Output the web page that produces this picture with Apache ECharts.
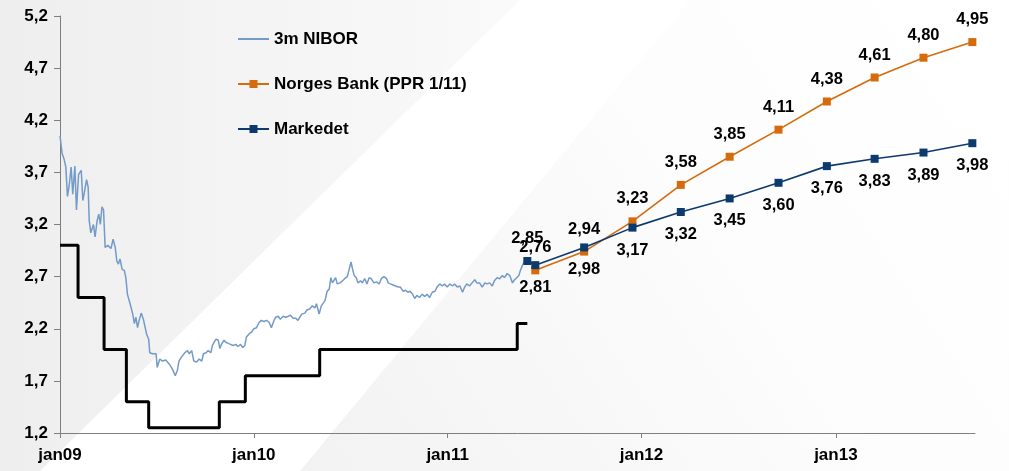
<!DOCTYPE html>
<html>
<head>
<meta charset="utf-8">
<script src="https://cdn.jsdelivr.net/npm/echarts@6/dist/echarts.min.js"></script>
<style>html,body{margin:0;padding:0;background:#fff;}#c{width:1009px;height:471px;}</style>
</head>
<body>
<div id="c"></div>
<script>
// ---- data ----
const seriesNames = ['3m NIBOR', 'Norges Bank (PPR 1/11)', 'Markedet'];

// 3m NIBOR: days since 1 Jan 2009 and values
const niborDays = [0,4,6,8,11,14,17,21,24,28,31,35,40,43,46,50,53,55,58,63,66,70,73,76,79,82,85,90,96,100,104,107,110,113,117,121,124,127,132,137,140,143,146,149,153,157,160,163,167,169,174,181,183,188,193,199,206,212,217,221,
224,229,235,240,243,248,252,257,262,267,270,275,279,284,287,290,294,298,301,304,309,312,317,321,326,331,335,340,344,348,351,356,361,365,370,375,379,384,389,394,398,403,406,411,415,420,425,430,434,439,444,448,
455,461,465,470,475,480,483,488,492,499,503,507,510,513,516,519,522,527,532,536,541,544,548,551,554,558,561,566,569,574,578,582,586,591,596,601,605,610,615,618,622,627,632,637,641,646,651,655,
659,664,668,672,677,682,687,691,696,701,706,710,715,720,724,729,734,739,743,748,753,758,762,766,771,776,781,785,790,795,800,804,809,814,818,823,828,833,837,842,847,852,856,860,864,867,869,871,875];
const niborValues = [4.05,3.88,3.89,3.82,3.75,3.47,3.56,3.75,3.49,3.76,3.34,3.68,3.72,3.43,3.51,3.63,3.56,3.24,3.12,3.20,3.08,3.24,3.30,3.20,3.37,3.34,2.98,3.00,2.97,3.06,2.98,2.85,2.82,2.87,2.77,2.76,2.69,2.53,2.44,2.34,2.25,2.31,2.21,2.28,2.35,2.29,2.28,2.15,2.10,1.97,1.96,1.96,1.83,1.91,1.89,1.90,1.86,1.81,1.75,1.80,
1.89,1.93,1.97,1.99,1.96,1.99,1.89,1.88,1.91,1.89,1.96,1.97,1.99,1.97,2.04,2.07,2.10,2.09,2.01,2.05,2.09,2.07,2.06,2.05,2.04,2.05,2.03,2.05,2.02,2.04,2.12,2.15,2.17,2.20,2.21,2.26,2.28,2.27,2.28,2.26,2.21,2.28,2.31,2.32,2.29,2.32,2.31,2.32,2.33,2.30,2.30,2.28,
2.34,2.35,2.38,2.39,2.42,2.40,2.44,2.34,2.42,2.47,2.56,2.58,2.69,2.64,2.63,2.69,2.63,2.64,2.66,2.68,2.70,2.76,2.84,2.77,2.71,2.69,2.64,2.66,2.64,2.68,2.63,2.69,2.68,2.64,2.65,2.63,2.68,2.70,2.68,2.64,2.63,2.62,2.61,2.60,2.60,2.56,2.57,2.55,
2.56,2.53,2.49,2.52,2.50,2.53,2.51,2.53,2.50,2.55,2.56,2.60,2.63,2.61,2.63,2.60,2.63,2.61,2.63,2.60,2.61,2.55,2.60,2.63,2.61,2.64,2.67,2.64,2.64,2.60,2.64,2.63,2.64,2.61,2.66,2.69,2.68,2.71,2.69,2.73,2.71,2.64,2.67,2.69,2.71,2.76,2.77,2.81,2.85];

// Key policy rate (step line)
const policyDates = ['2009-01-01','2009-02-04','2009-03-25','2009-05-06','2009-06-17','2009-10-28','2009-12-16','2010-05-05','2011-05-12','2011-05-31'];
const policyValues = [3.00,2.50,2.00,1.50,1.25,1.50,1.75,2.00,2.25,2.25];

// Norges Bank (PPR 1/11) forecast
const nbDates = ['2011-06-15','2011-09-15','2011-12-15','2012-03-15','2012-06-15','2012-09-15','2012-12-15','2013-03-15','2013-06-15','2013-09-15'];
const nbValues = [2.76,2.94,3.23,3.58,3.85,4.11,4.38,4.61,4.80,4.95];

// Market expectations
const mktDates = ['2011-05-31','2011-06-15','2011-09-15','2011-12-15','2012-03-15','2012-06-15','2012-09-15','2012-12-15','2013-03-15','2013-06-15','2013-09-15'];
const mktValues = [2.85,2.81,2.98,3.17,3.32,3.45,3.60,3.76,3.83,3.89,3.98];

// Axis ticks
const yTicks = [1.2,1.7,2.2,2.7,3.2,3.7,4.2,4.7,5.2];
const xTickYears = [2009,2010,2011,2012,2013];
// ----------------------------------------

const DAY = 86400000;
const t0 = Date.UTC(2009,0,1);
const ts = s => { const p = s.split('-'); return Date.UTC(+p[0], +p[1]-1, +p[2]); };
const xTicks = xTickYears.map(y => Date.UTC(y,0,1));
const fmt2 = v => v.toFixed(2).replace('.', ',');
const FONT = "'Liberation Sans', Arial, sans-serif";

const niborData = niborDays.map((d,i) => [t0 + d*DAY, niborValues[i]]);
const policyData = policyDates.map((d,i) => [ts(d), policyValues[i]]);
const nbData = nbDates.map((d,i) => [ts(d), nbValues[i]]);
const mktData = mktDates.map((d,i) => i === 0
  ? {value:[ts(d), mktValues[i]], label:{position:'top'}}
  : [ts(d), mktValues[i]]);

const chart = echarts.init(document.getElementById('c'), null, {renderer:'canvas'});

const labelStyle = {
  show: true, color: '#000', fontFamily: FONT, fontWeight: 'bold', fontSize: 16.5, distance: 10,
  formatter: p => fmt2(p.value[1])
};

chart.setOption({
  backgroundColor: '#ffffff',
  animation: false,
  graphic: [
    {type:'polygon', z:-100, silent:true,
     shape:{points:[[0,0],[520,0],[40,471],[0,471]]},
     style:{fill:{type:'linear',x:0,y:0,x2:1,y2:0,colorStops:[{offset:0,color:'#eeeeee'},{offset:1,color:'#fafafa'}]}}},
    {type:'polygon', z:-100, silent:true,
     shape:{points:[[690,0],[1009,0],[1009,471],[300,471]]},
     style:{fill:{type:'linear',x:0,y:1,x2:1,y2:0,colorStops:[{offset:0,color:'#f2f2f2'},{offset:0.6,color:'#fdfdfd'},{offset:1,color:'#ffffff'}]}}}
  ],
  grid: {left:60, right:34, top:16, bottom:38, containLabel:false},
  legend: {
    data: [
      {name: seriesNames[0], itemStyle: {opacity: 0}},
      {name: seriesNames[1]},
      {name: seriesNames[2]}
    ],
    orient: 'vertical', left: 237, top: 29, padding: 0,
    itemWidth: 31, itemHeight: 10, itemGap: 25,
    textStyle: {color:'#000', fontFamily: FONT, fontWeight:'bold', fontSize:17, lineHeight:20}
  },
  xAxis: {
    type: 'value',
    min: ts('2009-01-01'), max: ts('2013-09-20'),
    axisLine: {show:true, lineStyle:{color:'#7f7f7f', width:1}},
    axisTick: {show:true, length:5, lineStyle:{color:'#7f7f7f'}, customValues: xTicks},
    axisLabel: {
      customValues: xTicks, margin: 14, color:'#000', fontFamily: FONT, fontWeight:'bold', fontSize:17,
      formatter: v => 'jan' + String(new Date(v).getUTCFullYear()).slice(2)
    },
    splitLine: {show:false}
  },
  yAxis: {
    type: 'value', min: 1.2, max: 5.2,
    axisLine: {show:true, lineStyle:{color:'#7f7f7f', width:1}},
    axisTick: {show:true, length:6, lineStyle:{color:'#7f7f7f'}, customValues: yTicks},
    axisLabel: {
      customValues: yTicks, margin: 12, color:'#000', fontFamily: FONT, fontWeight:'bold', fontSize:17,
      formatter: v => v.toFixed(1).replace('.', ',')
    },
    splitLine: {show:false}
  },
  series: [
    {
      name: 'Styringsrente', type: 'line', step: 'end', data: policyData,
      showSymbol: false, symbol: 'none', z: 2,
      lineStyle: {color:'#000', width:3}, itemStyle:{color:'#000'}
    },
    {
      name: seriesNames[0], type: 'line', data: niborData,
      showSymbol: false, symbol: 'none', z: 3,
      lineStyle: {color:'#739ac8', width:1.5}, itemStyle:{color:'#739ac8'}
    },
    {
      name: seriesNames[1], type: 'line', data: nbData,
      symbol: 'rect', symbolSize: 8, z: 4,
      lineStyle: {color:'#d56b0b', width:1.6}, itemStyle:{color:'#d56b0b'},
      label: Object.assign({}, labelStyle, {position:'top'})
    },
    {
      name: seriesNames[2], type: 'line', data: mktData,
      symbol: 'rect', symbolSize: 8, z: 5,
      lineStyle: {color:'#0d3a6e', width:1.6}, itemStyle:{color:'#0d3a6e'},
      label: Object.assign({}, labelStyle, {position:'bottom'})
    }
  ]
});
</script>
</body>
</html>
